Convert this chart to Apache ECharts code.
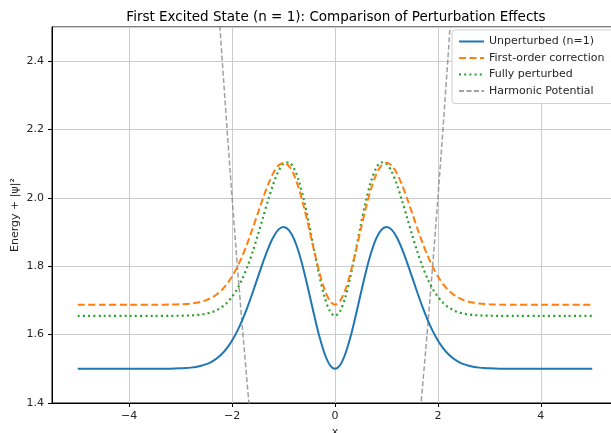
<!DOCTYPE html>
<html>
<head>
<meta charset="utf-8">
<script src="https://cdn.jsdelivr.net/npm/echarts@6/dist/echarts.min.js"></script>
<style>
  html, body { margin: 0; padding: 0; background: #fff; }
  #chart { width: 611px; height: 433px; }
</style>
</head>
<body>
<div id="chart"></div>
<script>
const xValues = [-5, -4.5, -4, -3.5, -3.2,
  -3.0, -2.9, -2.8, -2.7, -2.6, -2.5, -2.4, -2.3, -2.2, -2.1,
  -2.0, -1.9, -1.8, -1.7, -1.6, -1.5, -1.4, -1.3, -1.2, -1.1,
  -1.0, -0.9, -0.8, -0.7, -0.6, -0.5, -0.4, -0.3, -0.2, -0.1,
  0,
  0.1, 0.2, 0.3, 0.4, 0.5, 0.6, 0.7, 0.8, 0.9, 1.0,
  1.1, 1.2, 1.3, 1.4, 1.5, 1.6, 1.7, 1.8, 1.9, 2.0,
  2.1, 2.2, 2.3, 2.4, 2.5, 2.6, 2.7, 2.8, 2.9, 3.0,
  3.2, 3.5, 4, 4.5, 5];

const unperturbed = [1.5, 1.5, 1.5, 1.5001, 1.5004,
  1.5013, 1.5021, 1.5035, 1.5056, 1.5088, 1.5136, 1.5205, 1.5301, 1.5432, 1.5605,
  1.5827, 1.6102, 1.6432, 1.6812, 1.7233, 1.7676, 1.8115, 1.8519, 1.8850, 1.9071,
  1.9151, 1.9066, 1.8808, 1.8387, 1.7834, 1.7197, 1.6539, 1.5928, 1.5434, 1.5112,
  1.5,
  1.5112, 1.5434, 1.5928, 1.6539, 1.7197, 1.7834, 1.8387, 1.8808, 1.9066, 1.9151,
  1.9071, 1.8850, 1.8519, 1.8115, 1.7676, 1.7233, 1.6812, 1.6432, 1.6102, 1.5827,
  1.5605, 1.5432, 1.5301, 1.5205, 1.5136, 1.5088, 1.5056, 1.5035, 1.5021, 1.5013,
  1.5004, 1.5001, 1.5, 1.5, 1.5];

const firstOrder = [1.6875, 1.6875, 1.6875, 1.6876, 1.6879,
  1.6888, 1.6896, 1.6910, 1.6931, 1.6963, 1.7011, 1.7080, 1.7176, 1.7307, 1.7480,
  1.7702, 1.7977, 1.8307, 1.8687, 1.9108, 1.9551, 1.9990, 2.0394, 2.0725, 2.0946,
  2.1026, 2.0941, 2.0683, 2.0262, 1.9709, 1.9072, 1.8414, 1.7803, 1.7309, 1.6987,
  1.6875,
  1.6987, 1.7309, 1.7803, 1.8414, 1.9072, 1.9709, 2.0262, 2.0683, 2.0941, 2.1026,
  2.0946, 2.0725, 2.0394, 1.9990, 1.9551, 1.9108, 1.8687, 1.8307, 1.7977, 1.7702,
  1.7480, 1.7307, 1.7176, 1.7080, 1.7011, 1.6963, 1.6931, 1.6910, 1.6896, 1.6888,
  1.6879, 1.6876, 1.6875, 1.6875, 1.6875];

const fullyPerturbed = [1.655, 1.655, 1.655, 1.655, 1.6551,
  1.6554, 1.6557, 1.6563, 1.6573, 1.6589, 1.6614, 1.6654, 1.6715, 1.6804, 1.6931,
  1.7105, 1.7336, 1.7632, 1.7997, 1.8427, 1.8910, 1.9425, 1.9937, 2.0403, 2.0774,
  2.1001, 2.1041, 2.0869, 2.0483, 1.9908, 1.9198, 1.8431, 1.7697, 1.7090, 1.6690,
  1.655,
  1.6690, 1.7090, 1.7697, 1.8431, 1.9198, 1.9908, 2.0483, 2.0869, 2.1041, 2.1001,
  2.0774, 2.0403, 1.9937, 1.9425, 1.8910, 1.8427, 1.7997, 1.7632, 1.7336, 1.7105,
  1.6931, 1.6804, 1.6715, 1.6654, 1.6614, 1.6589, 1.6573, 1.6563, 1.6557, 1.6554,
  1.6551, 1.655, 1.655, 1.655, 1.655];

const harmonic = [12.5, 10.125, 8, 6.125, 5.12,
  4.5, 4.205, 3.92, 3.645, 3.38, 3.125, 2.88, 2.645, 2.42, 2.205,
  2.0, 1.805, 1.62, 1.445, 1.28, 1.125, 0.98, 0.845, 0.72, 0.605,
  0.5, 0.405, 0.32, 0.245, 0.18, 0.125, 0.08, 0.045, 0.02, 0.005,
  0,
  0.005, 0.02, 0.045, 0.08, 0.125, 0.18, 0.245, 0.32, 0.405, 0.5,
  0.605, 0.72, 0.845, 0.98, 1.125, 1.28, 1.445, 1.62, 1.805, 2.0,
  2.205, 2.42, 2.645, 2.88, 3.125, 3.38, 3.645, 3.92, 4.205, 4.5,
  5.12, 6.125, 8, 10.125, 12.5];

const seriesNames = ['Unperturbed (n=1)', 'First-order correction', 'Fully perturbed', 'Harmonic Potential'];

(function () {
  const el = document.getElementById('chart');
  const chart = echarts.init(el, null, { renderer: 'canvas' });
  const font = 'DejaVu Sans';
  const textColor = '#262626';
  const gridColor = '#cccccc';

  const pairs = (ys) => xValues.map((x, i) => [x, ys[i]]);

  const styles = [
    { color: '#1f77b4', width: 2, type: 'solid' },
    { color: '#ff7f0e', width: 2, type: [7, 3.5] },
    { color: '#2ca02c', width: 2.2, type: [2, 3.2] },
    { color: 'rgba(128,128,128,0.75)', width: 1.5, type: [5, 2.5] },
  ];
  const datasets = [unperturbed, firstOrder, fullyPerturbed, harmonic];

  const series = datasets.map((ys, i) => ({
    name: seriesNames[i],
    type: 'line',
    data: pairs(ys),
    showSymbol: false,
    symbol: 'none',
    smooth: i < 3 ? 0.3 : false,
    clip: true,
    z: 10 - i,
    lineStyle: {
      color: styles[i].color,
      width: styles[i].width,
      type: styles[i].type,
      cap: 'butt',
    },
    itemStyle: { color: styles[i].color },
  }));

  chart.setOption({
    animation: false,
    backgroundColor: '#ffffff',
    title: {
      text: 'First Excited State (n = 1): Comparison of Perturbation Effects',
      left: 331,
      top: 5,
      textAlign: 'center',
      textStyle: { fontFamily: font, fontSize: 13.5, fontWeight: 'normal', color: '#000' },
    },
    legend: {
      orient: 'vertical',
      left: 452,
      top: 30,
      padding: [6, 10, 7, 6],
      itemGap: 5.5,
      itemWidth: 25,
      itemHeight: 12,
      itemStyle: { opacity: 0 },
      backgroundColor: 'rgba(255,255,255,0.85)',
      borderColor: '#d0d0d0',
      borderWidth: 1,
      borderRadius: 3,
      textStyle: { fontFamily: font, fontSize: 11, color: textColor },
      data: seriesNames,
    },
    grid: {
      left: 52,
      top: 27,
      width: 566,
      height: 376,
      outerBoundsMode: 'none',
      show: true,
      borderColor: '#000',
      borderWidth: 1,
      backgroundColor: 'transparent',
    },
    xAxis: {
      type: 'value',
      min: -5.5,
      max: 5.5,
      name: 'x',
      nameLocation: 'middle',
      nameGap: 22,
      nameTextStyle: { fontFamily: font, fontSize: 11, color: textColor },
      axisLine: { show: true, onZero: false, lineStyle: { color: '#000', width: 1 } },
      axisTick: { show: true, inside: false, length: 4, lineStyle: { color: '#000' } },
      axisLabel: {
        fontFamily: font,
        fontSize: 11,
        color: textColor,
        margin: 8,
        showMinLabel: false,
        showMaxLabel: false,
        formatter: (v) => (v < 0 ? '\u2212' + (-v) : String(v)),
      },
      splitLine: { show: true, lineStyle: { color: gridColor, width: 1 } },
    },
    yAxis: {
      type: 'value',
      min: 1.4,
      max: 2.5,
      interval: 0.2,
      name: 'Energy + |\u03c8|\u00b2',
      nameLocation: 'middle',
      nameGap: 31,
      nameMoveOverlap: false,
      nameTextStyle: { fontFamily: font, fontSize: 11, color: textColor },
      axisLine: { show: true, onZero: false, lineStyle: { color: '#000', width: 1 } },
      axisTick: { show: true, inside: false, length: 4, lineStyle: { color: '#000' } },
      axisLabel: {
        fontFamily: font,
        fontSize: 11,
        color: textColor,
        margin: 8,
        showMaxLabel: false,
        formatter: (v) => v.toFixed(1),
      },
      splitLine: { show: true, lineStyle: { color: gridColor, width: 1 } },
    },
    series,
  });

  window.addEventListener('resize', () => chart.resize());
})();
</script>
</body>
</html>
